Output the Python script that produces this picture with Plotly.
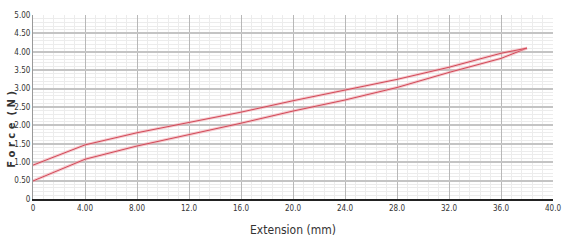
import plotly.graph_objects as go

# Extension (mm) sample positions
ext = [0, 4, 8, 12, 16, 20, 24, 28, 32, 36, 38]
# Loading curve (lower) force (N)
force_load = [0.49, 1.08, 1.44, 1.74, 2.06, 2.39, 2.69, 3.03, 3.44, 3.82, 4.10]
# Unloading curve (upper) force (N)
force_unload = [0.92, 1.47, 1.80, 2.07, 2.36, 2.67, 2.96, 3.25, 3.58, 3.96, 4.10]

x_tickvals = [0, 4, 8, 12, 16, 20, 24, 28, 32, 36, 40]
x_ticktext = ["0", "4.00", "8.00", "12.0", "16.0", "20.0", "24.0", "28.0", "32.0", "36.0", "40.0"]
y_tickvals = [0, 0.5, 1, 1.5, 2, 2.5, 3, 3.5, 4, 4.5, 5]
y_ticktext = ["0", "0.50", "1.00", "1.50", "2.00", "2.50", "3.00", "3.50", "4.00", "4.50", "5.00"]

fig = go.Figure()
for ys in (force_load, force_unload):
    fig.add_trace(go.Scatter(x=ext, y=ys, mode="lines", line=dict(color="rgba(240,160,170,0.55)", width=3), hoverinfo="skip", showlegend=False))
    fig.add_trace(go.Scatter(x=ext, y=ys, mode="lines", line=dict(color="#d24a58", width=1), showlegend=False))

cond = "Liberation Sans Narrow, DejaVu Sans Condensed, sans-serif"
tickfont = dict(family=cond, size=8, color="#333333")
fig.update_layout(
    width=563, height=245,
    margin=dict(l=33, r=10, t=15, b=46),
    paper_bgcolor="white", plot_bgcolor="white",
    xaxis=dict(range=[0, 40], tickvals=x_tickvals, ticktext=x_ticktext, tickfont=tickfont,
               automargin=False, ticklabeloverflow="allow",
               showgrid=True, gridcolor="#b8b8b8", gridwidth=1,
               minor=dict(dtick=0.8, showgrid=True, gridcolor="#ececec", gridwidth=1),
               showline=True, linecolor="#222222", linewidth=2, zeroline=False, ticks="",
               title=dict(text="Extension (mm)", font=dict(family=cond, size=12, color="#333333"), standoff=14)),
    yaxis=dict(range=[0, 5], tickvals=y_tickvals, ticktext=y_ticktext, tickfont=tickfont,
               automargin=False, ticklabeloverflow="allow",
               showgrid=True, gridcolor="#c4c4c4", gridwidth=2,
               minor=dict(dtick=0.1, showgrid=True, gridcolor="#ececec", gridwidth=1),
               showline=True, linecolor="#999999", linewidth=1, zeroline=False, ticks=""),
    annotations=[dict(text="<b>F o r c e  ( N )</b>", xref="paper", yref="paper",
                      x=-0.043, y=0.38, xanchor="center", yanchor="middle", textangle=-90,
                      showarrow=False, font=dict(family="DejaVu Sans, sans-serif", size=10, color="#333333"))],
)
fig.write_html("out.html", config={"displayModeBar": False},
               post_script="document.body.style.margin='0';document.body.style.overflow='hidden';")
